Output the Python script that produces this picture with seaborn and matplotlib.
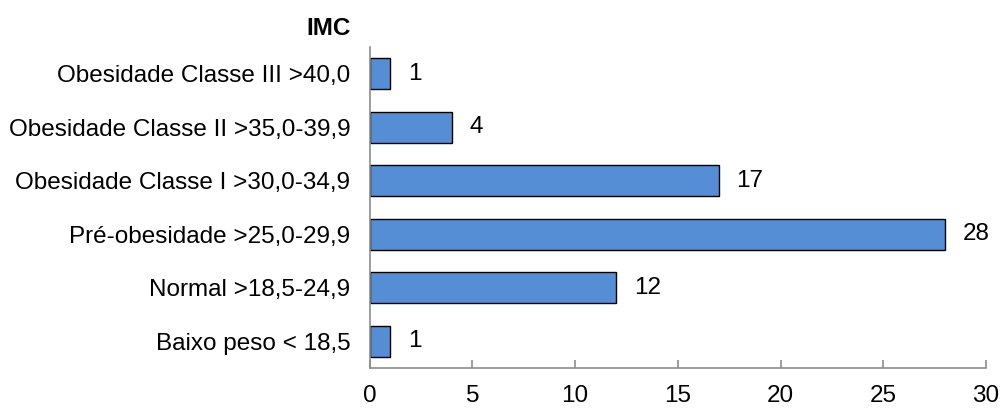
import matplotlib
matplotlib.use("Agg")
import matplotlib.pyplot as plt
import seaborn as sns
import pandas as pd

categories = [
    "Obesidade Classe III >40,0",
    "Obesidade Classe II >35,0-39,9",
    "Obesidade Classe I >30,0-34,9",
    "Pré-obesidade >25,0-29,9",
    "Normal >18,5-24,9",
    "Baixo peso < 18,5",
]
counts = [1, 4, 17, 28, 12, 1]
xticks = [0, 5, 10, 15, 20, 25, 30]

sns.set_theme(style="white")
plt.rcParams["font.family"] = ["Liberation Sans", "DejaVu Sans"]
plt.rcParams["text.color"] = "black"
plt.rcParams["xtick.color"] = "black"
plt.rcParams["ytick.color"] = "black"

FS = 17.5

df = pd.DataFrame({"categoria": categories, "n": counts})

fig = plt.figure(figsize=(10.02, 4.08), dpi=100)
ax = fig.add_axes([0.369, 0.098, 0.615, 0.787])

sns.barplot(data=df, y="categoria", x="n", order=categories, orient="h",
            color="#558ED5", edgecolor="black", linewidth=1.0,
            width=0.58, saturation=1, ax=ax)

for i, v in enumerate(counts):
    ax.text(v + 0.85, i, str(v), va="center", ha="left", fontsize=FS, color="black")

ax.set_xlim(0, 30)
ax.set_ylim(5.5, -0.5)
ax.set_xticks(xticks)
ax.set_xticklabels([str(t) for t in xticks], fontsize=FS)
ax.tick_params(axis="x", direction="in", length=6, width=1.2, color="#8c8c8c",
               labelcolor="black", pad=12, bottom=True)
ax.tick_params(axis="y", length=0, labelsize=FS, labelcolor="black", pad=14)
ax.set_xlabel("")
ax.set_ylabel("")
for s in ["top", "right"]:
    ax.spines[s].set_visible(False)
for s in ["left", "bottom"]:
    ax.spines[s].set_color("#8c8c8c")
    ax.spines[s].set_linewidth(1.2)

fig.text(0.328, 0.93, "IMC", ha="center", va="center", fontsize=FS,
         fontweight="bold", color="black")

fig.savefig("out.png", dpi=100)
